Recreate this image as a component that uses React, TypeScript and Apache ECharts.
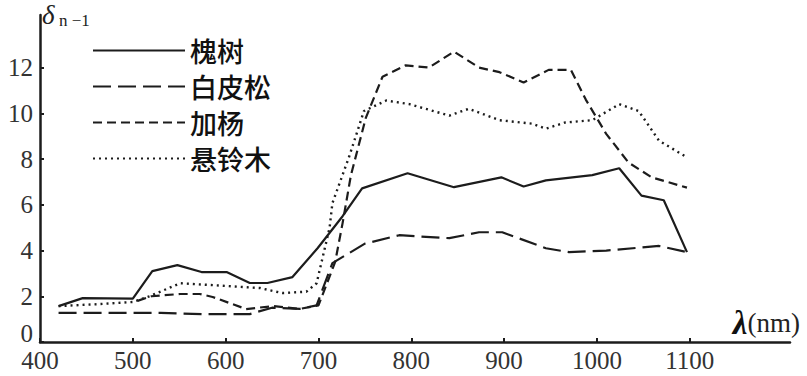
import React, { useEffect, useRef } from "react";
import * as echarts from "echarts";

const seriesNames = ["槐树", "白皮松", "加杨", "悬铃木"];

const huaishuX = [420, 446, 500, 521, 548, 574, 601, 626, 645, 672, 699, 726, 747, 796, 846, 897, 921, 945, 995, 1024, 1048, 1072, 1097];
const huaishuY = [1.57, 1.92, 1.9, 3.1, 3.36, 3.06, 3.06, 2.58, 2.58, 2.84, 4.1, 5.5, 6.72, 7.38, 6.77, 7.2, 6.8, 7.07, 7.3, 7.6, 6.4, 6.2, 3.93];

const baipisongX = [420, 530, 575, 626, 650, 680, 698, 715, 750, 787, 841, 873, 898, 945, 970, 1010, 1067, 1097];
const baipisongY = [1.27, 1.27, 1.22, 1.22, 1.5, 1.45, 1.6, 3.45, 4.3, 4.67, 4.54, 4.8, 4.8, 4.1, 3.93, 4.0, 4.2, 3.93];

const jiayangX = [505, 520, 551, 572, 586, 622, 651, 680, 700, 718, 726, 735, 751, 769, 794, 819, 846, 873, 895, 921, 948, 972, 988, 1010, 1034, 1059, 1097];
const jiayangY = [1.8, 2.0, 2.1, 2.1, 1.97, 1.44, 1.57, 1.45, 1.6, 3.5, 5.2, 7.3, 9.8, 11.6, 12.1, 12.0, 12.7, 12.0, 11.8, 11.35, 11.9, 11.9, 10.6, 9.1, 7.85, 7.2, 6.75];

const xuanlingmuX = [420, 465, 500, 518, 551, 601, 637, 661, 687, 698, 712, 715, 733, 749, 773, 798, 841, 862, 895, 930, 945, 966, 995, 1024, 1045, 1067, 1096];
const xuanlingmuY = [1.57, 1.66, 1.75, 2.0, 2.57, 2.45, 2.36, 2.14, 2.2, 2.57, 5.0, 6.07, 8.1, 10.1, 10.56, 10.4, 9.9, 10.2, 9.7, 9.55, 9.33, 9.6, 9.7, 10.4, 10.1, 8.8, 8.1];

const xTicks = [400, 500, 600, 700, 800, 900, 1000, 1100];
const yTicks = [0, 2, 4, 6, 8, 10, 12];

const zip = (xs: number[], ys: number[]) => xs.map((x, i) => [x, ys[i]]);

const LINE = "#1c1c1c";
const SERIF = "'Liberation Serif', 'DejaVu Serif', serif";
const CJK = "'Noto Sans CJK SC', sans-serif";

export default function App() {
  const ref = useRef<HTMLDivElement>(null);
  useEffect(() => {
    if (!ref.current) return;
    const chart = echarts.init(ref.current, undefined, { renderer: "svg" });
    const dashes: any[] = ["solid", [18, 7], [9, 5], [2, 4]];
    const datas = [
      zip(huaishuX, huaishuY),
      zip(baipisongX, baipisongY),
      zip(jiayangX, jiayangY),
      zip(xuanlingmuX, xuanlingmuY),
    ];
    chart.setOption({
      animation: false,
      backgroundColor: "#ffffff",
      grid: { left: 40, right: 17, top: 15, bottom: 34, containLabel: false },
      legend: {
        orient: "vertical",
        left: 92,
        top: 37,
        padding: 0,
        itemWidth: 92,
        itemHeight: 26,
        itemGap: 9,
        data: seriesNames,
        itemStyle: { opacity: 0 },
        textStyle: { fontFamily: CJK, fontSize: 27, lineHeight: 26, color: "#111", fontWeight: 500 },
      },
      xAxis: {
        type: "value",
        min: 400,
        max: 1208,
        splitLine: { show: false },
        axisLine: { onZero: false, lineStyle: { color: LINE, width: 2.5 } },
        axisTick: { inside: true, length: 4, customValues: xTicks, lineStyle: { color: LINE, width: 2 } },
        axisLabel: {
          customValues: xTicks,
          formatter: (v: number) => String(v),
          fontFamily: SERIF,
          fontSize: 25,
          color: "#333",
          margin: 6,
        },
      },
      yAxis: {
        type: "value",
        min: 0,
        max: 14.3,
        splitLine: { show: false },
        axisLine: { show: true, onZero: false, lineStyle: { color: LINE, width: 2.5 } },
        axisTick: { show: true, inside: true, length: 4, customValues: yTicks, lineStyle: { color: LINE, width: 2 } },
        axisLabel: {
          customValues: yTicks,
          formatter: (v: number) => (v === 0 ? "{z|0}" : String(v)),
          rich: { z: { fontFamily: SERIF, fontSize: 25, lineHeight: 22, color: "#333", padding: [0, 0, 18, 0] } },
          fontFamily: SERIF,
          fontSize: 25,
          color: "#333",
          margin: 7,
        },
      },
      series: seriesNames.map((name, i) => ({
        name,
        type: "line",
        data: datas[i],
        symbol: "none",
        showSymbol: false,
        color: LINE,
        lineStyle: { color: LINE, width: i === 3 ? 2.4 : 2.2, type: dashes[i] },
      })),
      graphic: [
        {
          type: "text",
          left: 42,
          top: 1,
          style: { text: "δ", font: `italic 27px ${SERIF}`, fill: "#222" },
        },
        {
          type: "text",
          left: 59,
          top: 12,
          style: { text: "n −1", font: `17px ${SERIF}`, fill: "#222" },
        },
        {
          type: "text",
          right: 7,
          top: 306,
          style: {
            text: "{l|λ}{n|(nm)}",
            rich: {
              l: { font: `italic bold 33px ${SERIF}`, fill: "#111" },
              n: { font: `27px ${SERIF}`, fill: "#222" },
            },
          },
        },
      ],
    });
    return () => chart.dispose();
  }, []);
  return <div ref={ref} style={{ width: 807, height: 376, position: "absolute", left: 0, top: 0 }} />;
}
